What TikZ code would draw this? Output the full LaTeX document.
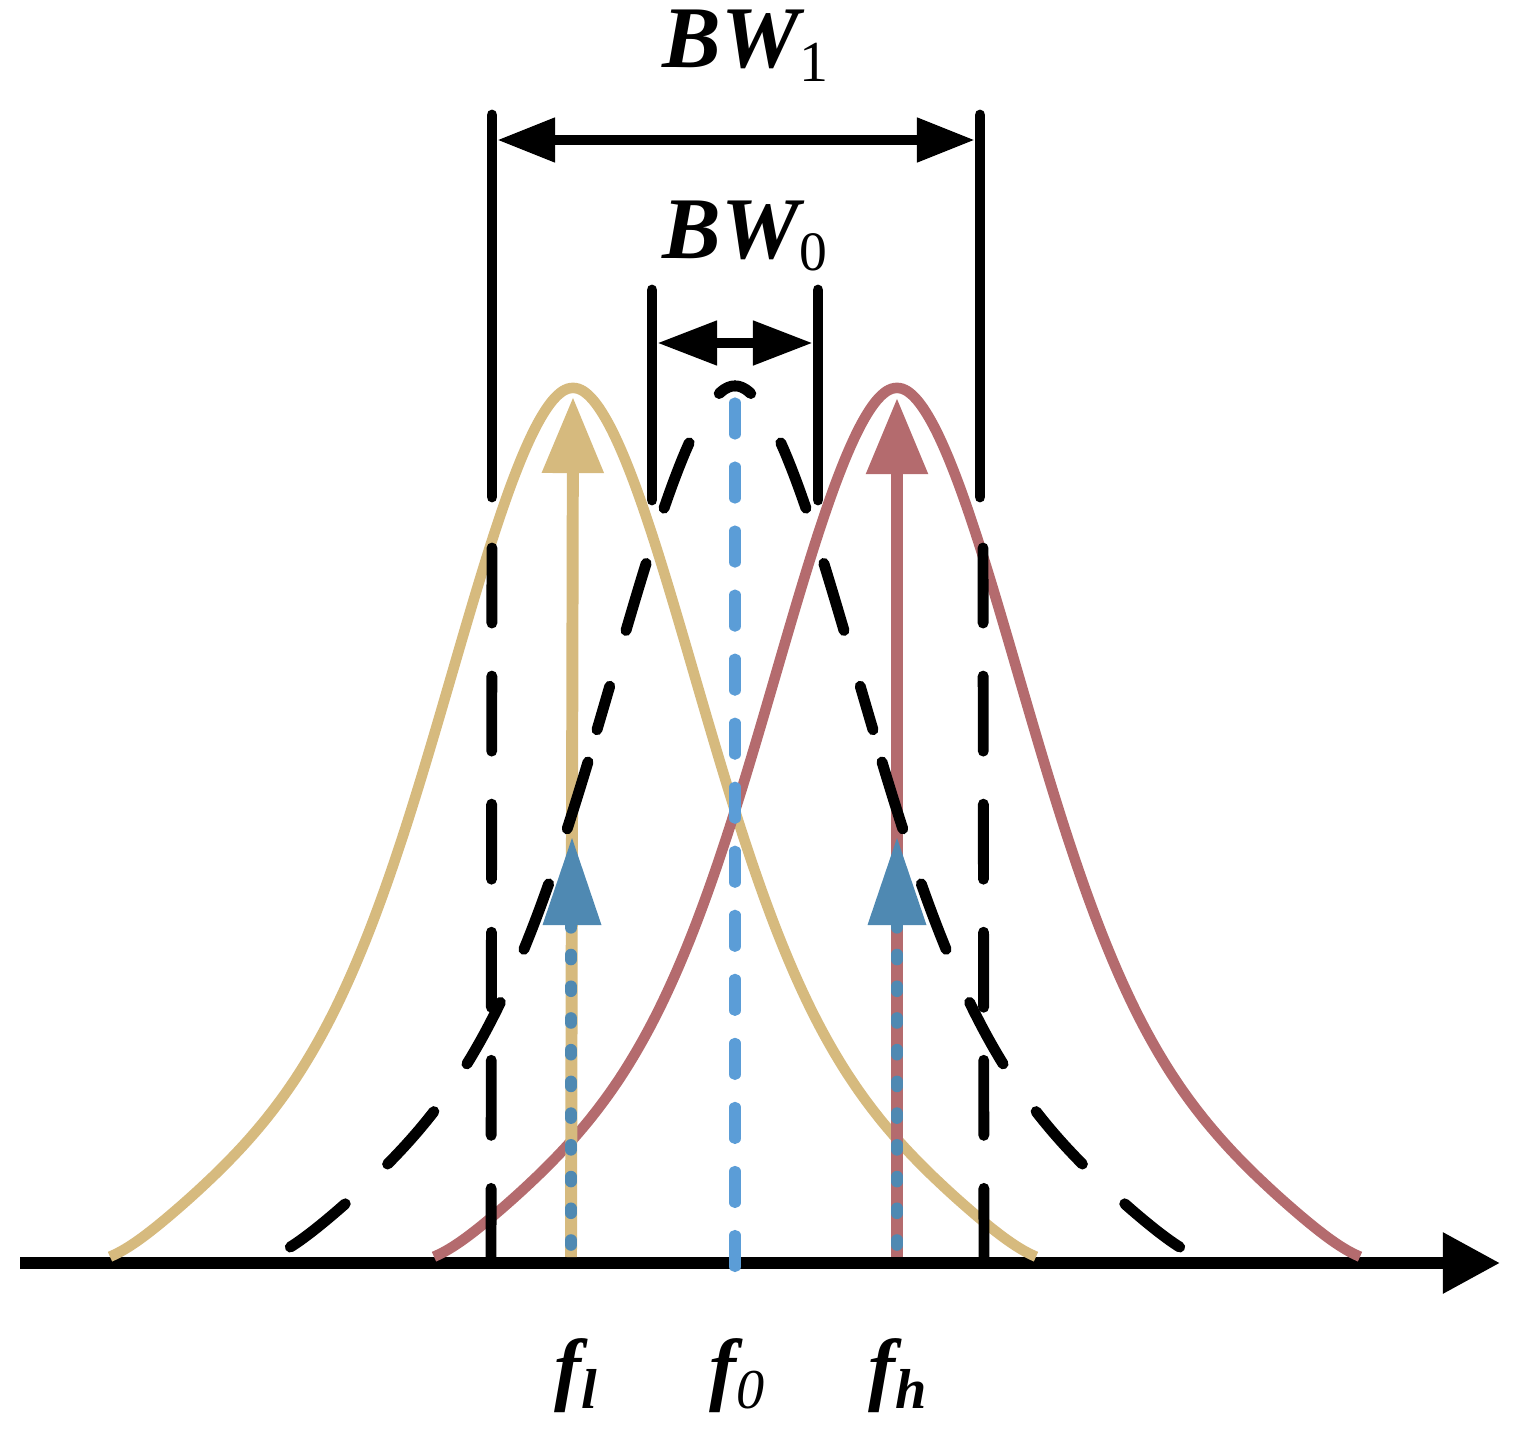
\documentclass[tikz,border=0pt]{standalone}
\usepackage{fontspec}
\setmainfont{Liberation Serif}
\usetikzlibrary{arrows.meta}
\definecolor{cy}{RGB}{214,186,126}
\definecolor{cr}{RGB}{180,107,110}
\definecolor{cb}{RGB}{79,137,178}
\definecolor{clb}{RGB}{91,157,215}
\tikzset{
  curve/.style={line width=3pt},
  blk/.style={black, line width=3.1pt, line cap=round},
  blkdash/.style={blk, dash pattern=on 0.75cm off 0.53cm},
  curvedash/.style={blk, dash pattern=on 0.7cm off 0.58cm},
  axisline/.style={black, line width=3.4pt, -{Triangle[length=0.57cm,width=0.58cm]}},
  dimarrow/.style={black, line width=3.1pt, {Triangle[length=0.58cm,width=0.42cm]}-{Triangle[length=0.58cm,width=0.42cm]}},
  dimarrowB/.style={black, line width=3.1pt, {Triangle[length=0.6cm,width=0.42cm]}-{Triangle[length=0.6cm,width=0.42cm]}},
  tonearrow/.style={line width=3.4pt, -{Triangle[length=0.76cm,width=0.59cm]}},
  bluedots/.style={cb, line width=3.3pt, line cap=round, dash pattern=on 0.05cm off 0.267cm},
  centerline/.style={clb, line width=3.2pt, line cap=round, dash pattern=on 0.31cm off 0.33cm},
  biglab/.style={inner sep=0, font=\fontsize{25}{25}\selectfont\bfseries\itshape},
  flab/.style={inner sep=0, font=\fontsize{23}{23}\selectfont\bfseries\itshape}
}
% bell profile
\tikzset{declare function={
  lin(\u)=(4.640-sqrt(\u*\u+0.09))/4.340;
  soft(\u)=(lin(\u)+0.04*ln(1+exp(-min(lin(\u)/0.04,9)))-0.0277)/0.972;
  bell(\u)=0.60*exp(-0.5*(\u/1.2)^2)+0.40*soft(\u);
  belly(\x,\c)=1257-869*bell((\x-\c)/100);
}}
\begin{document}
\begin{tikzpicture}[x=0.01cm,y=-0.01cm]
\useasboundingbox (0,0) rectangle (1517,1433);
% coordinates
\coordinate (ax0) at (20,1263);
\coordinate (ax1) at (1500,1263);
\coordinate (yb) at (571,1257);
\coordinate (yt) at (573,397);
\coordinate (rb) at (897,1257);
\coordinate (rt) at (897,398);
\coordinate (ybb) at (571,1245);
\coordinate (ybm) at (571,925);
\coordinate (ybt) at (572,838);
\coordinate (rbb) at (897,1245);
\coordinate (rbm) at (897,925);
\coordinate (rbt) at (897,838);
\coordinate (c0) at (735,403);
\coordinate (c1) at (735,1268);
\coordinate (L1t) at (492,115);
\coordinate (L1b) at (492,497);
\coordinate (L1e) at (492,548);
\coordinate (L1d) at (491,1258);
\coordinate (R1t) at (980,115);
\coordinate (R1b) at (980,497);
\coordinate (R1e) at (983,548);
\coordinate (R1d) at (984,1258);
\coordinate (L0t) at (652,290);
\coordinate (L0b) at (652,500);
\coordinate (R0t) at (818,290);
\coordinate (R0b) at (818,500);
\coordinate (a1l) at (497,140);
\coordinate (a1r) at (975,140);
\coordinate (a0l) at (657,343);
\coordinate (a0r) at (813,343);
% axis
\draw[axisline] (ax0) -- (ax1);
% bells
\draw[cy, curve] plot[domain=110:1036, samples=181, smooth] (\x, {belly(\x,573)});
\draw[cr, curve] plot[domain=434:1360, samples=181, smooth] (\x, {belly(\x,897)});
% tone arrows
\draw[cy, tonearrow] (yb) -- (yt);
\draw[cr, tonearrow] (rb) -- (rt);
\draw[bluedots] (ybb) -- (ybm);
\draw[bluedots] (rbb) -- (rbm);
\fill[cb] (ybt) -- ++(-29.5,87) -- ++(59,0) -- cycle;
\fill[cb] (rbt) -- ++(-29.5,87) -- ++(59,0) -- cycle;
% center dashed line
\draw[centerline] (c0) -- (c1);
% black dashed bell
\draw[curvedash, dash phase=0.52cm] plot[domain=735:873, samples=40, smooth] (\x, {belly(\x,735)-2});
\draw[curvedash, dash phase=0.52cm] plot[domain=735:597, samples=40, smooth] (\x, {belly(\x,735)-2});
\draw[curvedash] plot[domain=882:1200, samples=80, smooth] (\x, {belly(\x,735)});
\draw[curvedash] plot[domain=588:270, samples=80, smooth] (\x, {belly(\x,735)});
% bandwidth lines
\draw[blk] (L1t) -- (L1b);
\draw[blk] (R1t) -- (R1b);
\draw[blkdash] (L1e) -- (L1d);
\draw[blkdash] (R1e) -- (R1d);
\draw[blk] (L0t) -- (L0b);
\draw[blk] (R0t) -- (R0b);
\draw[dimarrow] (a1l) -- (a1r);
\draw[dimarrowB] (a0l) -- (a0r);
% labels
\node[biglab, anchor=base west] (bw1) at (662,67) {BW\raisebox{-4pt}{\fontsize{16.5}{16}\selectfont\mdseries\upshape 1}};
\node[biglab, anchor=base west] (bw0) at (662,258) {BW\raisebox{-3.5pt}{\fontsize{15.8}{16}\selectfont\mdseries\upshape 0}};
\node[flab, anchor=base] (fl) at (576,1395) {f\raisebox{-3.7pt}{\fontsize{16}{16}\selectfont l}};
\node[flab, anchor=base] (f0) at (737,1395) {f\raisebox{-3.7pt}{\fontsize{16}{16}\selectfont\mdseries 0}};
\node[flab, anchor=base] (fh) at (898,1395) {f\raisebox{-3.7pt}{\fontsize{16}{16}\selectfont h}};
\end{tikzpicture}
\end{document}
